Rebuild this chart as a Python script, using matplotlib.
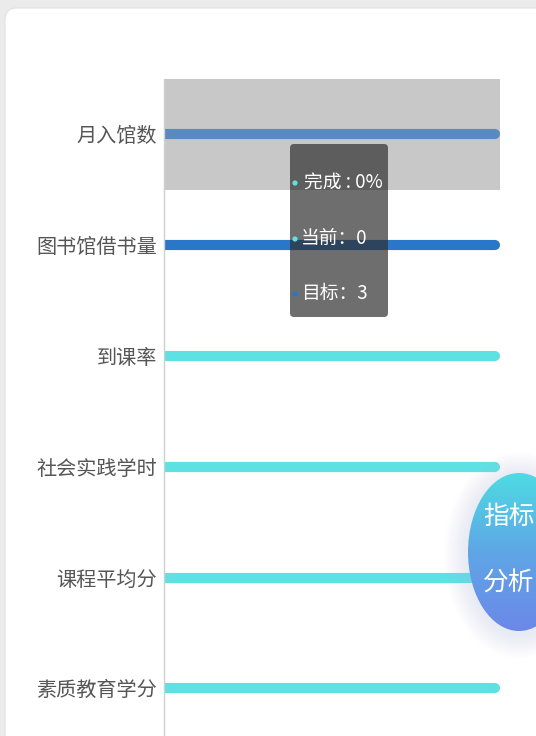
import matplotlib
matplotlib.use("Agg")
import matplotlib.pyplot as plt
import numpy as np
from matplotlib.patches import FancyBboxPatch, Ellipse, Circle
from matplotlib.colors import LinearSegmentedColormap

plt.rcParams['font.family'] = ['Noto Sans CJK SC', 'DejaVu Sans']

# ---- data ----
categories = ['月入馆数', '图书馆借书量', '到课率', '社会实践学时', '课程平均分', '素质教育学分']
bar_values = [100, 100, 100, 100, 100, 100]
bar_colors = ['#5a8bc0', '#2a76c9', '#5ee1e3', '#5ee1e3', '#5ee1e3', '#5ee1e3']
highlight_index = 0
tip_labels = ['完成', '当前', '目标']
tip_values = ['0%', '0', '3']
tip_dot_colors = ['#5ee1e3', '#5ee1e3', '#2a76c9']
button_lines = ['指标', '分析']

W, H = 536, 736
fig = plt.figure(figsize=(W / 100, H / 100), dpi=100, facecolor='#ebebeb')

# background card
bg = fig.add_axes([0, 0, 1, 1], zorder=0)
bg.set_xlim(0, W); bg.set_ylim(H, 0); bg.axis('off')
bg.add_patch(FancyBboxPatch((5, 8), 560, 760, boxstyle='round,pad=0,rounding_size=12',
                            fc='white', ec='#e2e2e2', lw=0.8))

# main chart
top_px, band_px = 79, 110.8
n = len(categories)
ax_h = n * band_px / H
ax_bottom = 1 - top_px / H - ax_h
ax = fig.add_axes([164 / W, ax_bottom, (500 - 164) / W, ax_h], zorder=1)
ax.set_facecolor('none')
y = np.arange(n)
ax.axhspan(highlight_index - 0.5, highlight_index + 0.5, color='#c8c8c8', zorder=0, lw=0)
for i in range(n):
    ax.plot([0, bar_values[i]], [y[i], y[i]], color=bar_colors[i], lw=7.3,
            solid_capstyle='round', zorder=2)
ax.set_xlim(0, 101.5)
ax.set_ylim(n - 0.5, -0.5)
ax.set_yticks(y)
ax.set_yticklabels(categories, fontsize=14.5, color='#555555')
ax.tick_params(axis='y', length=0, pad=5)
ax.set_xticks([])
for s in ['top', 'right', 'bottom']:
    ax.spines[s].set_visible(False)
ax.spines['left'].set_color('#cfcfcf')
ax.spines['left'].set_linewidth(1.0)

# overlay: tooltip + button
ov = fig.add_axes([0, 0, 1, 1], zorder=3)
ov.set_xlim(0, W); ov.set_ylim(H, 0); ov.axis('off'); ov.set_facecolor('none')

ov.add_patch(FancyBboxPatch((290, 144), 98, 173, boxstyle='round,pad=0,rounding_size=4',
                            fc=(0.19, 0.19, 0.19, 0.7), ec='none'))
tip_y = [182, 238, 293]
tip_text = [f'{tip_labels[0]} : {tip_values[0]}',
            f'{tip_labels[1]}：{tip_values[1]}',
            f'{tip_labels[2]}：{tip_values[2]}']
tip_x = [304, 301, 301]
for k in range(3):
    ov.add_patch(Circle((295, tip_y[k] + 1), 2.6, fc=tip_dot_colors[k], ec='none'))
    ov.text(tip_x[k], tip_y[k], tip_text[k], color='white', fontsize=13.5, va='center', ha='left')

# button glow
cx, cy, ew, eh = 519, 552, 102, 158
for k in range(12, 0, -1):
    ov.add_patch(Ellipse((cx, cy + 3), ew + k * 4, eh + k * 4, fc='#b3c6f2', ec='none', alpha=0.022))
ell = Ellipse((cx, cy), ew, eh, fc='none', ec='none')
ov.add_patch(ell)
grad = LinearSegmentedColormap.from_list('g', ['#4edbe3', '#5fa6e6', '#6c88e8'])
img = ov.imshow(np.linspace(0, 1, 256).reshape(-1, 1), cmap=grad, aspect='auto',
                extent=(cx - ew / 2, cx + ew / 2, cy + eh / 2, cy - eh / 2), zorder=4)
img.set_clip_path(ell)
ov.set_xlim(0, W); ov.set_ylim(H, 0)
ov.text(483, 517, button_lines[0], color='white', fontsize=18.5, va='center', ha='left', zorder=5)
ov.text(483, 583, button_lines[1], color='white', fontsize=18.5, va='center', ha='left', zorder=5)

fig.savefig('out.png', dpi=100, facecolor=fig.get_facecolor())
